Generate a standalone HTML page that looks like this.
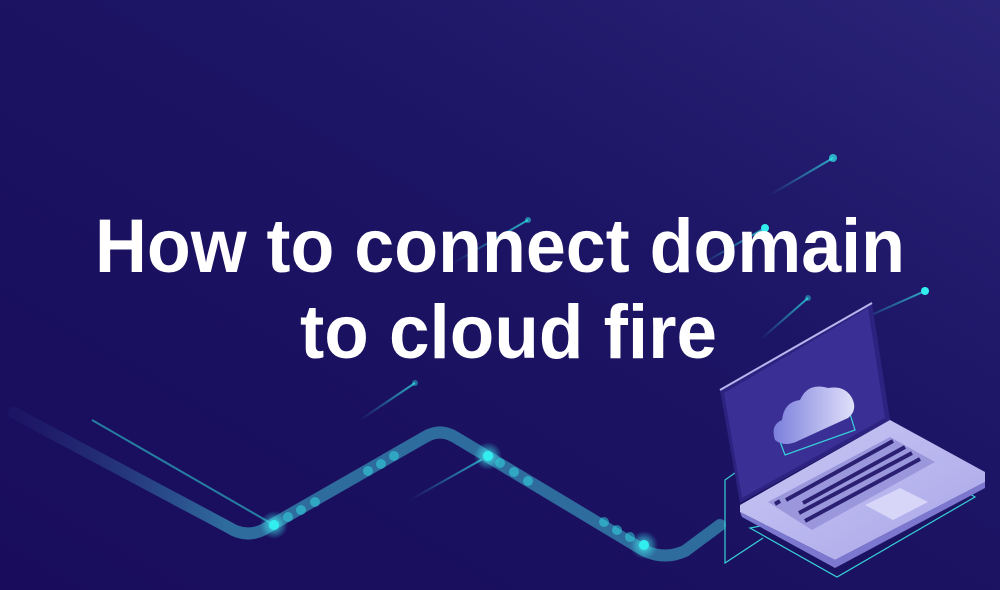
<!DOCTYPE html>
<html><head><meta charset="utf-8"><style>
html,body{margin:0;padding:0}
body{width:1000px;height:590px;overflow:hidden;background:#1a0f5e;font-family:"Liberation Sans",sans-serif}
</style></head><body>
<svg width="1000" height="590" viewBox="0 0 1000 590" xmlns="http://www.w3.org/2000/svg" style="position:absolute;left:0;top:0">
<defs>
<linearGradient id="bg" x1="0" y1="1" x2="1" y2="0">
<stop offset="0" stop-color="#190c5c"/><stop offset="0.6" stop-color="#1c1464"/><stop offset="1" stop-color="#2a2478"/>
</linearGradient>
<linearGradient id="wave" x1="0" y1="0" x2="1" y2="0">
<stop offset="0" stop-color="#2a3a84" stop-opacity="0.15"/><stop offset="0.3" stop-color="#2f6c9e"/><stop offset="1" stop-color="#2f6c9e"/>
</linearGradient>
<radialGradient id="glow"><stop offset="0" stop-color="#5ff" stop-opacity="0.8"/><stop offset="1" stop-color="#3ee" stop-opacity="0"/></radialGradient>
<linearGradient id="base" x1="0" y1="0" x2="1" y2="1"><stop offset="0" stop-color="#c9c8f4"/><stop offset="1" stop-color="#a9a6e8"/></linearGradient>
<linearGradient id="cloud" x1="0" y1="0" x2="1" y2="0"><stop offset="0" stop-color="#7b7fdc"/><stop offset="1" stop-color="#e0e0fa"/></linearGradient>
<linearGradient id="ray" x1="0" y1="1" x2="1" y2="0"><stop offset="0" stop-color="#3ee" stop-opacity="0"/><stop offset="1" stop-color="#3ee" stop-opacity="0.7"/></linearGradient>
</defs>
<rect width="1000" height="590" fill="url(#bg)"/>
<g stroke="url(#ray)" stroke-width="2" fill="none">
<line x1="770" y1="195" x2="833" y2="158"/>
<line x1="450" y1="265" x2="528" y2="220"/>
<line x1="700" y1="265" x2="765" y2="228"/>
<line x1="860" y1="320" x2="925" y2="291"/>
<line x1="360" y1="420" x2="415" y2="383"/>
<line x1="760" y1="340" x2="808" y2="298"/>
<line x1="410" y1="500" x2="488" y2="456"/>
</g>
<g fill="#3ee">
<circle cx="833" cy="158" r="4" opacity="0.7"/><circle cx="528" cy="220" r="3" opacity="0.5"/>
<circle cx="765" cy="228" r="4"/><circle cx="925" cy="291" r="4"/>
<circle cx="415" cy="383" r="3" opacity="0.4"/><circle cx="808" cy="298" r="3" opacity="0.4"/>
</g>
<path d="M14,413 L228,527 Q248,540 268,527 L425,437 Q440,428 455,437 L645,551 Q665,560 685,551 L720,525" stroke="url(#wave)" stroke-width="12" fill="none" stroke-linecap="round"/>
<line x1="92" y1="420" x2="274" y2="525" stroke="#2fc7d0" stroke-width="2" opacity="0.6"/>
<g fill="#3ee">
<circle cx="274" cy="525" r="14" fill="url(#glow)"/><circle cx="488" cy="456" r="14" fill="url(#glow)"/><circle cx="644" cy="545" r="14" fill="url(#glow)"/>
<ellipse cx="274" cy="525" rx="5" ry="5"/><ellipse cx="488" cy="456" rx="5" ry="5"/><ellipse cx="644" cy="545" rx="5" ry="5"/>
<g opacity="0.45"><circle cx="288" cy="517" r="5"/><circle cx="301" cy="510" r="5"/><circle cx="315" cy="502" r="5"/><circle cx="368" cy="471" r="5"/><circle cx="381" cy="464" r="5"/><circle cx="394" cy="456" r="5"/>
<circle cx="500" cy="463" r="5"/><circle cx="514" cy="472" r="5"/><circle cx="528" cy="481" r="5"/><circle cx="604" cy="522" r="5"/><circle cx="617" cy="530" r="5"/><circle cx="630" cy="537" r="5"/></g>
</g>
<!-- laptop -->
<polyline points="770,448 725,480 725,563 763,538" fill="none" stroke="#37d2d8" stroke-width="1.2"/>
<polygon points="750,528 837,577 975,497 960,488" fill="none" stroke="#37d2d8" stroke-width="1.2"/>
<polygon points="720,390 872,303 890,420 740,503" fill="#2d2280"/>
<polygon points="724,393 868,308 885,418 742,498" fill="#3a2f94"/>
<line x1="720" y1="390" x2="872" y2="303" stroke="#b8b5ee" stroke-width="2"/>
<polygon points="775,428 850,414 855,430 785,455" fill="none" stroke="#37d2d8" stroke-width="1.2"/>
<path d="M775,440 Q770,425 782,420 Q784,402 800,400 Q808,382 828,388 Q845,385 852,398 Q858,410 848,418 L800,440 Q785,448 775,440Z" fill="url(#cloud)"/>
<polygon points="740,505 890,420 985,472 985,482 835,560 740,512" fill="url(#base)"/>
<polygon points="740,512 835,560 985,482 985,488 835,568 742,517" fill="#7c78d0"/>
<polygon points="768,502 890,437 935,462 812,530" fill="#9a97dc"/>
<g stroke="#2a1f70" stroke-width="4">
<line x1="786" y1="500" x2="893" y2="441"/><line x1="803" y1="503" x2="905" y2="447"/>
<line x1="799" y1="513" x2="912" y2="453"/><line x1="805" y1="521" x2="920" y2="459"/>
<line x1="775" y1="504" x2="780" y2="501"/>
</g>
<polygon points="865,505 900,488 928,502 893,520" fill="#d8d6f8"/>
<text x="95" y="272" textLength="810" lengthAdjust="spacingAndGlyphs" fill="#fff" font-family="Liberation Sans, sans-serif" font-weight="700" font-size="76">How to connect domain</text>
<text x="300" y="358" textLength="417" lengthAdjust="spacingAndGlyphs" fill="#fff" font-family="Liberation Sans, sans-serif" font-weight="700" font-size="76">to cloud fire</text>
</svg>
</body></html>
